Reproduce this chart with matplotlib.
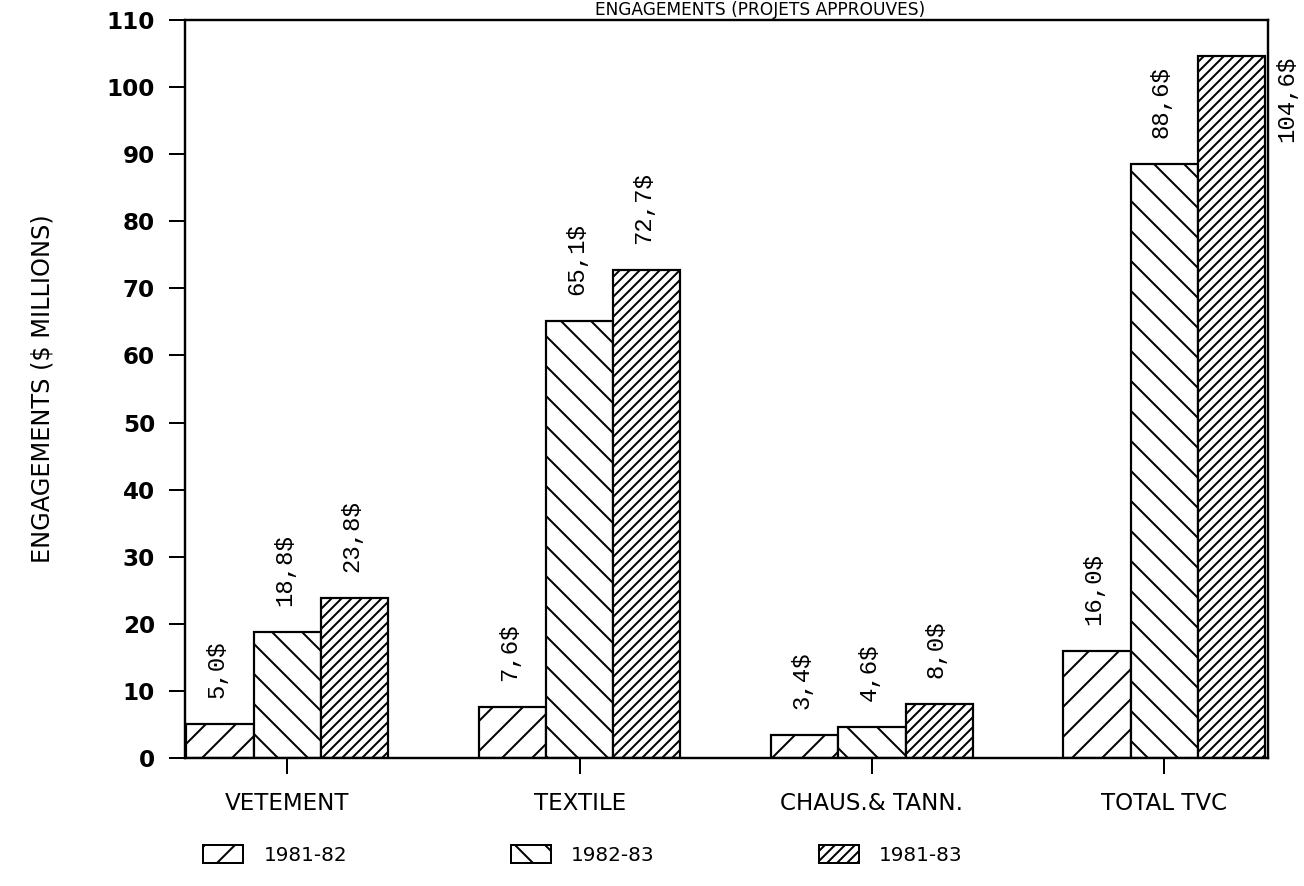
import matplotlib
matplotlib.use("Agg")
import matplotlib.pyplot as plt
import numpy as np
from matplotlib.patches import Patch

categories = ["VETEMENT", "TEXTILE", "CHAUS.& TANN.", "TOTAL TVC"]
series_names = ["1981-82", "1982-83", "1981-83"]
v_8182 = [5.0, 7.6, 3.4, 16.0]
v_8283 = [18.8, 65.1, 4.6, 88.6]
v_8183 = [23.8, 72.7, 8.0, 104.6]
labels_8182 = ["5,0$", "7,6$", "3,4$", "16,0$"]
labels_8283 = ["18,8$", "65,1$", "4,6$", "88,6$"]
labels_8183 = ["23,8$", "72,7$", "8,0$", "104,6$"]
yticks = [0, 10, 20, 30, 40, 50, 60, 70, 80, 90, 100, 110]

DPI = 90
W, H = 1304, 886


def px(v):
    """pixels -> points"""
    return v * 72.0 / DPI


plt.rcParams['hatch.linewidth'] = px(2.0)
fig = plt.figure(figsize=(W / DPI, H / DPI), dpi=DPI)
ax = fig.add_axes([185 / W, 1 - 758 / H, (1268 - 185) / W, (758 - 20) / H])

x = np.arange(len(categories))
w = 0.23
hatches = ['/', '\\', '///']
allvals = [v_8182, v_8283, v_8183]
alllabs = [labels_8182, labels_8283, labels_8183]
mono = ['Liberation Mono', 'DejaVu Sans Mono']
for k, (vals, labs, h) in enumerate(zip(allvals, alllabs, hatches)):
    xs = x + (k - 1) * w
    ax.bar(xs, vals, width=w, facecolor='white', edgecolor='black',
           linewidth=px(2.2), hatch=h)
    for xi, v, lab in zip(xs, vals, labs):
        txt = lab.replace('$', r'\$')
        if v > 95:
            ax.annotate(txt, (xi + w / 2, v), xytext=(px(22), px(-86)),
                        textcoords='offset points', rotation=90,
                        ha='center', va='bottom', fontsize=px(24),
                        family=mono, annotation_clip=False)
        else:
            ax.annotate(txt, (xi, v), xytext=(px(-3), px(26)),
                        textcoords='offset points', rotation=90,
                        ha='center', va='bottom', fontsize=px(24),
                        family=mono)

ax.set_xlim(x[0] - 1.5 * w - 0.005, x[-1] + 1.5 * w + 0.01)
ax.set_ylim(0, 110)
ax.set_yticks(yticks)
ax.set_yticklabels([str(t) for t in yticks], fontsize=px(23), fontweight='bold')
ax.set_xticks(x)
ax.set_xticklabels(categories, fontsize=px(23))
ax.tick_params(axis='both', direction='out', length=px(16), width=px(2),
               pad=px(14))
ax.tick_params(axis='x', pad=px(18))
for s in ax.spines.values():
    s.set_linewidth(px(2.4))
ax.set_ylabel("ENGAGEMENTS (\\$ MILLIONS)", fontsize=px(24), labelpad=px(52))

fig.text(760 / W, 1.0 - 1 / H, "ENGAGEMENTS (PROJETS APPROUVES)", ha='center',
         va='top', fontsize=px(17))

handles = [Patch(facecolor='white', edgecolor='black', linewidth=px(2),
                 hatch=h) for h in hatches]
fig.legend(handles, series_names, loc='center',
           bbox_to_anchor=(0.447, 1 - 855 / H), ncol=3, frameon=False,
           fontsize=px(20), handlelength=2.0, handleheight=1.0,
           columnspacing=8.2, handletextpad=1.0)

fig.savefig("out.png", dpi=DPI)
